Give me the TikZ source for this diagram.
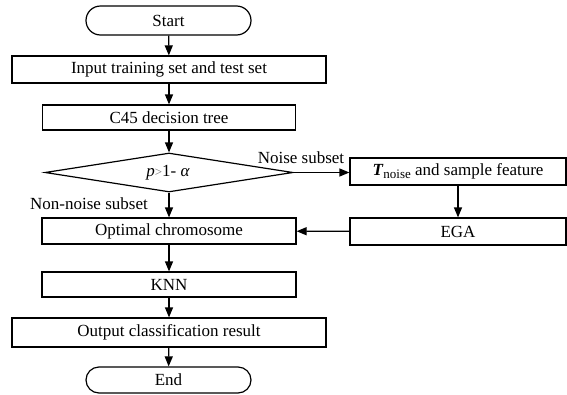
\documentclass[tikz,border=0pt]{standalone}
\usepackage{fontspec}
\setmainfont{Liberation Serif}
\usetikzlibrary{shapes.geometric,shapes.misc,arrows.meta}
\begin{document}
\begin{tikzpicture}[x=1pt,y=-1pt,
  every node/.style={font=\fontsize{17pt}{19pt}\selectfont, inner sep=0pt},
  boxnode/.style={draw, line width=1.2pt, rectangle},
  termnode/.style={draw, line width=1.2pt, rounded rectangle},
  decnode/.style={draw, line width=1.2pt, diamond},
  conn/.style={line width=1.2pt, -{Triangle[length=10pt,width=8pt]}},
  lbl/.style={anchor=base}]
\useasboundingbox (0,0) rectangle (567,394);
\node[termnode, minimum width=165pt, minimum height=29pt] (start) at (168.5,20.5) {Start};
\node[boxnode, minimum width=314pt, minimum height=27pt] (input) at (169,69.5) {Input training set and test set};
\node[boxnode, minimum width=253pt, minimum height=25pt] (c45) at (169,117.5) {C45 decision tree};
\node[decnode, minimum width=248pt, minimum height=39pt] (dec) at (169,172.5) {};
\node (declbl) at (168,172.5) {\textit{p}{\fontsize{13pt}{14pt}\selectfont\color{black!55}>}1- \textit{α}};
\node[boxnode, minimum width=254pt, minimum height=26pt] (opt) at (169,231) {Optimal chromosome};
\node[boxnode, minimum width=254pt, minimum height=25pt] (knn) at (169,284.5) {KNN};
\node[boxnode, minimum width=314pt, minimum height=29pt] (out) at (169,332.5) {Output classification result};
\node[termnode, minimum width=165pt, minimum height=26pt] (end) at (168.5,380) {End};
\node[boxnode, minimum width=216pt, minimum height=27pt] (tn) at (458,171.5) {\textbf{\textit{T}}{\fontsize{13pt}{14pt}\selectfont\raisebox{-3pt}{noise}} and sample feature};
\node[boxnode, minimum width=216pt, minimum height=27pt] (ega) at (458,231.5) {EGA};
\node[lbl] (noiselbl) at (301,163) {Noise subset};
\node[lbl] (nonnoiselbl) at (89,209) {Non-noise subset};
\draw[conn] (start) -- (input);
\draw[conn] (input) -- (c45);
\draw[conn] (c45) -- (dec.north);
\draw[conn] (dec.south) -- (opt);
\draw[conn] (dec.east) -- (tn.west |- dec.east);
\draw[conn] (tn) -- (ega);
\draw[conn] (ega) -- (opt);
\draw[conn] (opt) -- (knn);
\draw[conn] (knn) -- (out);
\draw[conn] (out) -- (end);
\end{tikzpicture}
\end{document}
